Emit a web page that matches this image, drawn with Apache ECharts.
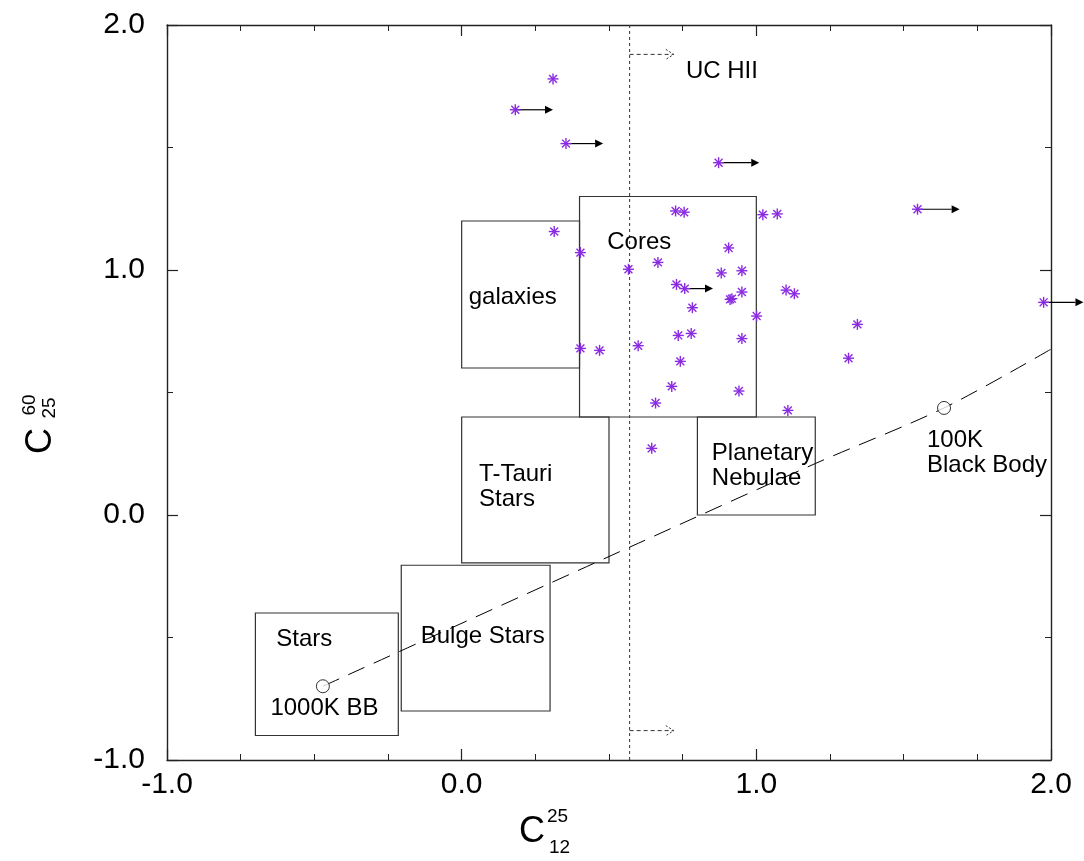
<!DOCTYPE html>
<html><head><meta charset="utf-8">
<script src="https://cdn.jsdelivr.net/npm/echarts@6/dist/echarts.min.js"></script>
<style>html,body{margin:0;padding:0;background:#fff}#c{width:1084px;height:861px}</style>
</head><body><div id="c"></div>
<script>
// ---- data ----
const xTickLabels = ['-1.0', '0.0', '1.0', '2.0'];
const yTickLabels = ['-1.0', '0.0', '1.0', '2.0'];

// detected sources (asterisks)
const srcX = [0.310, 0.726, 0.755, 1.022, 1.071, 0.314, 0.403, 0.566, 0.666, 0.906, 0.881, 0.951,
              0.729, 0.951, 0.911, 0.917, 1.101, 1.129, 0.783, 1.001, 0.735, 0.779, 0.951, 0.403,
              0.468, 0.599, 0.742, 1.313, 1.343, 0.713, 0.941, 0.658, 1.107, 0.645];
const srcY = [1.780, 1.241, 1.236, 1.226, 1.229, 1.157, 1.071, 1.003, 1.031, 1.090, 0.988, 0.997,
              0.941, 0.910, 0.880, 0.883, 0.918, 0.903, 0.846, 0.812, 0.733, 0.741, 0.720, 0.680,
              0.672, 0.691, 0.627, 0.640, 0.778, 0.525, 0.506, 0.457, 0.427, 0.272];

// sources with lower limits (arrow to the right)
const limX   = [0.182, 0.354, 0.872, 1.547, 0.757, 1.975];
const limY   = [1.654, 1.516, 1.438, 1.248, 0.924, 0.868];
const limEnd = [0.310, 0.480, 1.010, 1.690, 0.853, 2.110];

// regions: Stars, Bulge Stars, T-Tauri, galaxies, Cores, Planetary Nebulae
const boxX0 = [-0.70, -0.205, 0.00, 0.00, 0.40, 0.80];
const boxX1 = [-0.215, 0.30, 0.50, 0.40, 1.00, 1.20];
const boxY0 = [-0.90, -0.80, -0.195, 0.60, 0.40, 0.00];
const boxY1 = [-0.40, -0.205, 0.40, 1.20, 1.30, 0.40];

// black body track
const bbX = [-0.471, 0.60, 1.20, 1.637, 2.00];
const bbY = [-0.699, -0.115, 0.21, 0.437, 0.677];
const bbRefX = [-0.471, 1.637];
const bbRefY = [-0.699, 0.437];

// UC HII boundary
const ucLineX = 0.57;
const ucArrowY = [1.88, -0.88];
const ucArrowEnd = 0.72;

// annotations
const annText = ['UC HII', 'Cores', 'galaxies', 'T-Tauri\nStars', 'Planetary\nNebulae',
                 '100K\nBlack Body', 'Stars', 'Bulge Stars', '1000K BB'];
const annX = [0.761, 0.494, 0.024, 0.059, 0.849, 1.579, -0.629, -0.139, -0.649];
const annY = [1.811, 1.114, 0.887, 0.115, 0.200, 0.254, -0.508, -0.497, -0.789];

// ---- chart ----
const FONT = '"Liberation Sans", Arial, Helvetica, sans-serif';
const PURPLE = '#8a2be2';
const chart = echarts.init(document.getElementById('c'), null, {renderer: 'canvas'});

function starItem(params, api) {
  const p = api.coord([api.value(0), api.value(1)]);
  const r = 5.5, d = r * 0.72;
  const segs = [[0, -r, 0, r], [-r, 0, r, 0], [-d, -d, d, d], [-d, d, d, -d]];
  return {
    type: 'group',
    children: segs.map(s => ({
      type: 'line',
      shape: {x1: p[0] + s[0], y1: p[1] + s[1], x2: p[0] + s[2], y2: p[1] + s[3]},
      style: {stroke: PURPLE, lineWidth: 1.4}
    }))
  };
}
function limItem(params, api) {
  const a = api.coord([api.value(0), api.value(1)]);
  const b = api.coord([api.value(2), api.value(1)]);
  const L = 8, W = 4;
  return {
    type: 'group',
    children: [
      {type: 'line', shape: {x1: a[0], y1: a[1], x2: b[0] - L, y2: b[1]}, style: {stroke: '#000', lineWidth: 1.2}},
      {type: 'polygon', shape: {points: [[b[0], b[1]], [b[0] - L, b[1] - W], [b[0] - L, b[1] + W]]}, style: {fill: '#000'}}
    ]
  };
}
function boxItem(params, api) {
  const a = api.coord([api.value(0), api.value(3)]);
  const b = api.coord([api.value(2), api.value(1)]);
  return {type: 'rect', shape: {x: a[0], y: a[1], width: b[0] - a[0], height: b[1] - a[1]},
          style: {fill: 'none', stroke: '#333', lineWidth: 1.2}};
}
function ucArrowItem(params, api) {
  const a = api.coord([api.value(0), api.value(1)]);
  const b = api.coord([api.value(2), api.value(1)]);
  const st = {stroke: '#333', lineWidth: 1, lineDash: [4, 3], fill: 'none'};
  return {
    type: 'group',
    children: [
      {type: 'line', shape: {x1: a[0], y1: a[1], x2: b[0], y2: b[1]}, style: st},
      {type: 'polyline', shape: {points: [[b[0] - 8, b[1] - 5], [b[0], b[1]], [b[0] - 8, b[1] + 5]]},
       style: {stroke: '#333', lineWidth: 1, lineDash: [2, 2], fill: 'none'}}
    ]
  };
}
function annItem(params, api) {
  const i = params.dataIndex;
  const p = api.coord([annX[i], annY[i]]);
  return {type: 'text', x: p[0], y: p[1],
          style: {text: annText[i], fill: '#000', fontSize: 24, fontFamily: FONT,
                  align: 'left', verticalAlign: 'middle', lineHeight: 25}};
}

function axisCommon(showLabel, labels, pos, minorSplit, labelMargin) {
  return {
    type: 'value', min: -1, max: 2, interval: 1, position: pos,
    axisLine: {show: true, onZero: false, lineStyle: {color: '#222', width: 1.4}},
    axisTick: {show: true, inside: true, length: 11, lineStyle: {color: '#222', width: 1.2}},
    minorTick: {show: true, splitNumber: minorSplit, length: 6, lineStyle: {color: '#222', width: 1}},
    splitLine: {show: false}, minorSplitLine: {show: false},
    axisLabel: {
      show: showLabel, fontSize: 30, fontFamily: FONT, color: '#000', margin: labelMargin,
      showMinLabel: true, showMaxLabel: true,
      formatter: v => labels[Math.round(v) + 1]
    }
  };
}

const option = {
  animation: false,
  backgroundColor: '#fff',
  grid: {left: 167, right: 33, top: 25, bottom: 101, containLabel: false},
  xAxis: [axisCommon(true, xTickLabels, 'bottom', 4, 10), axisCommon(false, xTickLabels, 'top', 4, 10)],
  yAxis: [axisCommon(true, yTickLabels, 'left', 2, 22), axisCommon(false, yTickLabels, 'right', 2, 22)],
  series: [
    {type: 'custom', renderItem: boxItem, data: boxX0.map((x, i) => [x, boxY0[i], boxX1[i], boxY1[i]]), z: 2, silent: true},
    {type: 'line', data: [[ucLineX, -1], [ucLineX, 2]], showSymbol: false, z: 3,
     lineStyle: {color: '#333', width: 1, type: [3, 3]}, silent: true},
    {type: 'custom', renderItem: ucArrowItem, data: ucArrowY.map(y => [ucLineX, y, ucArrowEnd]), z: 3, silent: true},
    {type: 'line', data: bbX.map((x, i) => [x, bbY[i]]), showSymbol: false, smooth: 0.3, z: 3,
     lineStyle: {color: '#000', width: 1, type: [18, 10]}, silent: true},
    {type: 'scatter', data: bbRefX.map((x, i) => [x, bbRefY[i]]), symbol: 'circle', symbolSize: 13, z: 4,
     itemStyle: {color: '#fff', borderColor: '#000', borderWidth: 1}, silent: true},
    {type: 'custom', renderItem: annItem, data: annX.map((x, i) => [x, annY[i]]), z: 5, silent: true},
    {type: 'custom', renderItem: limItem, data: limX.map((x, i) => [x, limY[i], limEnd[i]]), z: 6, silent: true, clip: false},
    {type: 'custom', renderItem: starItem, data: srcX.concat(limX).map((x, i) => [x, srcY.concat(limY)[i]]), z: 7, silent: true}
  ],
  graphic: [
    {type: 'text', x: 532, y: 832, style: {text: 'C', fontSize: 36, fontFamily: FONT, fill: '#000', align: 'center', verticalAlign: 'middle'}},
    {type: 'text', x: 547, y: 817, style: {text: '25', fontSize: 19, fontFamily: FONT, fill: '#000', align: 'left', verticalAlign: 'middle'}},
    {type: 'text', x: 549, y: 848, style: {text: '12', fontSize: 19, fontFamily: FONT, fill: '#000', align: 'left', verticalAlign: 'middle'}},
    {type: 'group', x: 41, y: 441, rotation: Math.PI / 2, children: [
      {type: 'text', x: 0, y: 0, style: {text: 'C', fontSize: 36, fontFamily: FONT, fill: '#000', align: 'center', verticalAlign: 'middle'}},
      {type: 'text', x: 36, y: -11, style: {text: '60', fontSize: 19, fontFamily: FONT, fill: '#000', align: 'center', verticalAlign: 'middle'}},
      {type: 'text', x: 33, y: 9, style: {text: '25', fontSize: 19, fontFamily: FONT, fill: '#000', align: 'center', verticalAlign: 'middle'}}
    ]}
  ]
};
chart.setOption(option);
</script>
</body></html>
